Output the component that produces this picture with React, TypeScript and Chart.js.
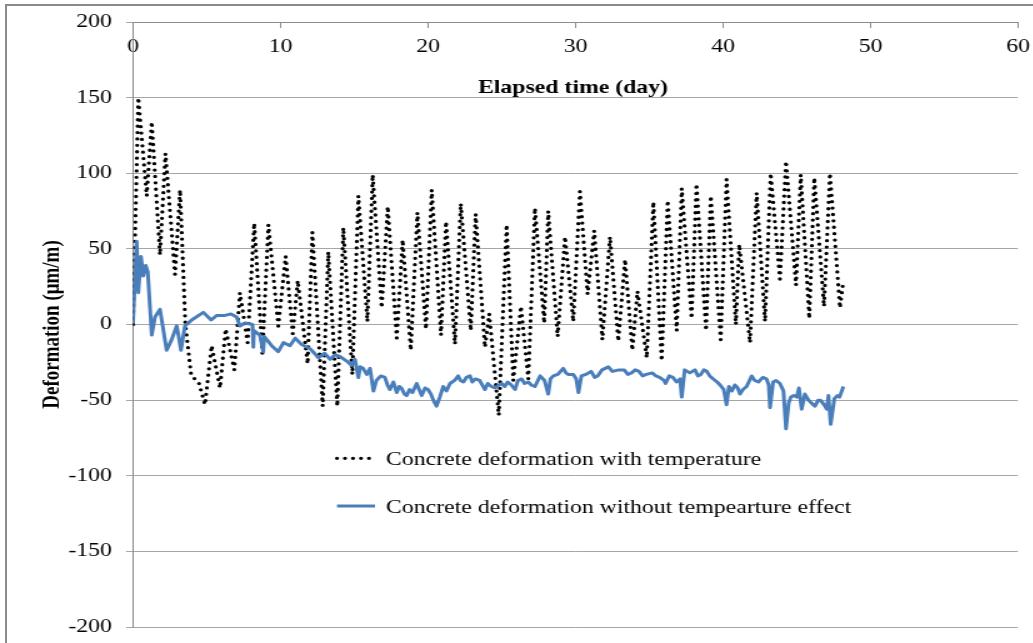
import React, { useEffect, useRef } from 'react';
import { Chart, registerables } from 'chart.js';

Chart.register(...registerables);

const xTicks = [0, 10, 20, 30, 40, 50, 60];
const yTicks = [-200, -150, -100, -50, 0, 50, 100, 150, 200];
const seriesNames = [
  'Concrete deformation with temperature',
  'Concrete deformation without tempearture effect',
];
const xTitle = 'Elapsed time (day)';
const yTitle = 'Deformation (μm/m)';

const tempDays = [
  0, 0.36, 0.93, 1.27, 1.83, 2.2, 2.85, 3.19, 3.55, 3.95, 4.45,
  4.88, 5.33, 5.9, 6.28, 6.87, 7.25, 7.77, 8.22, 8.77, 9.18,
  9.85, 10.35, 10.83, 11.17, 11.84, 12.16, 12.86, 13.24, 13.85, 14.26,
  14.87, 15.28, 15.89, 16.25, 16.86, 17.27, 17.88, 18.28, 18.83, 19.28,
  19.86, 20.25, 20.88, 21.22, 21.83, 22.22, 22.9, 23.23, 23.86, 24.15,
  24.8, 25.33, 25.78, 26.3, 26.8, 27.25, 27.88, 28.15, 28.79, 29.29,
  29.85, 30.3, 30.82, 31.27, 31.82, 32.34, 32.9, 33.36, 33.85, 34.2,
  34.83, 35.28, 35.84, 36.25, 36.86, 37.2, 37.87, 38.2, 38.85, 39.17,
  39.84, 40.24, 40.87, 41.1, 41.83, 42.28, 42.85, 43.23, 43.86, 44.27,
  44.95, 45.27, 45.85, 46.19, 46.85, 47.25, 47.93, 48.16,
];
const tempValues = [
  0, 150, 85, 134, 46, 113, 33, 89, 0, -34, -38,
  -53, -14, -42, -3, -30, 21, -12, 67, -19, 66,
  -1, 45, -6, 29, -26, 61, -54, 48, -54, 64,
  -33, 85, 2, 99, 11, 78, -9, 56, -17, 74,
  -3, 89, -7, 68, -13, 80, -4, 73, -15, 7,
  -60, 66, -37, 12, -36, 77, 1, 75, -8, 58,
  2, 88, 20, 62, -10, 58, -11, 43, -17, 22,
  -22, 81, -24, 82, -4, 90, 4, 93, -4, 85,
  -10, 96, 0, 53, -12, 87, 2, 100, 30, 108,
  26, 99, 4, 97, 12, 100, 11, 29,
];

const noTempDays = [
  0, 0.25, 0.36, 0.54, 0.7, 0.86, 1.0, 1.27, 1.49, 1.83,
  2.28, 2.62, 2.96, 3.1, 3.25, 3.52, 3.98, 4.77, 5.3, 5.67,
  6.24, 6.64, 7.02, 7.25, 7.59, 8.1, 8.16, 8.2, 8.6, 8.83,
  8.9, 9.4, 9.85, 10.2, 10.64, 11.0, 11.4, 12.0, 12.3, 12.56,
  13.0, 13.36, 13.7, 14.0, 14.46, 14.83, 15.05, 15.28, 15.4, 15.6,
  15.85, 16.07, 16.3, 16.5, 16.8, 17.08, 17.25, 17.42, 17.65, 17.88,
  18.05, 18.2, 18.4, 18.55, 18.75, 18.95, 19.23, 19.4, 19.57, 19.8,
  20.0, 20.2, 20.36, 20.58, 20.8, 21.03, 21.25, 21.49, 21.8, 22.05,
  22.2, 22.4, 22.6, 22.85, 23.0, 23.2, 23.5, 23.86, 24.05, 24.3,
  24.54, 24.8, 25.0, 25.2, 25.4, 25.65, 25.9, 26.1, 26.35, 26.55,
  26.8, 27.0, 27.25, 27.45, 27.6, 27.9, 28.15, 28.3, 28.5, 28.8,
  29.17, 29.35, 29.5, 29.85, 30.05, 30.2, 30.4, 30.7, 31.06, 31.3,
  31.5, 31.8, 32.23, 32.5, 32.95, 33.3, 33.55, 33.8, 34.05, 34.3,
  34.55, 34.8, 35.2, 35.45, 35.7, 36.0, 36.1, 36.35, 36.6, 36.85,
  37.09, 37.2, 37.4, 37.75, 38.1, 38.3, 38.5, 38.7, 38.9, 39.1,
  39.34, 39.6, 39.8, 40.05, 40.24, 40.4, 40.6, 40.8, 41.0, 41.15,
  41.35, 41.6, 41.94, 42.15, 42.4, 42.7, 42.95, 43.1, 43.19, 43.4,
  43.6, 43.86, 44.1, 44.27, 44.45, 44.6, 44.8, 45.0, 45.15, 45.33,
  45.55, 45.8, 46.0, 46.24, 46.45, 46.6, 46.85, 47.03, 47.15, 47.3,
  47.55, 47.75, 47.9, 48.05, 48.16,
];
const noTempValues = [
  1, 55, 21, 45, 32, 39, 35, -7, 5, 10,
  -17, -10, -1, -8, -17, -1, 3, 8, 3, 6,
  6, 7, 5, -1, 1, 0, -15, -4, -7, -18,
  -8, -14, -18, -12, -14, -9, -13, -16, -19, -22,
  -19, -23, -20, -21, -24, -27, -23, -35, -28, -29,
  -33, -29, -44, -37, -34, -35, -40, -43, -38, -45,
  -41, -42, -46, -47, -43, -45, -39, -43, -47, -42,
  -43, -46, -50, -54, -48, -41, -44, -39, -37, -34,
  -37, -38, -35, -34, -38, -36, -37, -43, -39, -41,
  -42, -40, -39, -41, -38, -40, -43, -37, -36, -39,
  -38, -40, -41, -37, -34, -37, -46, -36, -34, -33,
  -29, -32, -33, -33, -36, -45, -34, -33, -31, -35,
  -34, -30, -28, -31, -30, -30, -33, -32, -30, -31,
  -34, -33, -32, -34, -35, -37, -39, -34, -35, -38,
  -36, -48, -30, -32, -30, -34, -33, -30, -31, -34,
  -36, -38, -40, -43, -53, -41, -44, -40, -42, -46,
  -43, -41, -34, -37, -38, -35, -36, -40, -55, -38,
  -37, -39, -44, -69, -52, -48, -47, -48, -42, -56,
  -46, -50, -52, -54, -50, -50, -53, -56, -47, -66,
  -49, -47, -48, -44, -41,
];

const FONT = '"Liberation Serif", "Times New Roman", serif';

const overlayPlugin = {
  id: 'overlay',
  afterDraw(chart: any) {
    const { ctx, chartArea } = chart;
    const ys = chart.scales.y;
    const ds = chart.data.datasets;
    ctx.save();
    ctx.fillStyle = '#000';
    ctx.font = `bold 19px ${FONT}`;
    ctx.textAlign = 'center';
    ctx.textBaseline = 'alphabetic';
    ctx.fillText(xTitle, (chartArea.left + chartArea.right) / 2 - 2, ys.getPixelForValue(200) + 71);

    const rows = [458.3, 506];
    const sx0 = 269.6;
    const sx1 = 300;
    const tx = 308.8;
    rows.forEach((ry, i) => {
      const d = ds[i];
      ctx.save();
      ctx.strokeStyle = d.borderColor;
      ctx.lineWidth = d.borderWidth;
      ctx.lineCap = d.borderCapStyle || 'butt';
      ctx.setLineDash(d.borderDash || []);
      ctx.beginPath();
      ctx.moveTo(sx0, ry);
      ctx.lineTo(sx1, ry);
      ctx.stroke();
      ctx.restore();
      ctx.font = `19px ${FONT}`;
      ctx.textAlign = 'left';
      ctx.textBaseline = 'alphabetic';
      ctx.fillStyle = '#000';
      ctx.fillText(seriesNames[i], tx, ry + 7);
    });
    ctx.restore();
  },
};

export default function App() {
  const ref = useRef<HTMLCanvasElement>(null);

  useEffect(() => {
    const canvas = ref.current;
    if (!canvas) return;
    const chart = new Chart(canvas, {
      type: 'line',
      data: {
        datasets: [
          {
            label: seriesNames[0],
            data: tempDays.map((d, i) => ({ x: d, y: tempValues[i] })),
            borderColor: '#000000',
            borderWidth: 3.3,
            borderDash: [0, 6.4],
            borderCapStyle: 'round',
            borderJoinStyle: 'round',
            pointRadius: 0,
            tension: 0,
            fill: false,
            order: 2,
          },
          {
            label: seriesNames[1],
            data: noTempDays.map((d, i) => ({ x: d, y: noTempValues[i] })),
            borderColor: '#4a7ebb',
            borderWidth: 3,
            borderJoinStyle: 'round',
            pointRadius: 0,
            tension: 0,
            fill: false,
            order: 1,
          },
        ],
      },
      options: {
        responsive: false,
        animation: false,
        devicePixelRatio: 1,
        events: [],
        layout: { padding: { left: 30.2, top: 22, right: 11.6, bottom: 16 } },
        plugins: { legend: { display: false }, tooltip: { enabled: false } },
        scales: {
          x: {
            type: 'linear',
            position: { y: 200 },
            min: 0,
            max: 60,
            afterBuildTicks: (s: any) => {
              s.ticks = xTicks.map((v) => ({ value: v }));
            },
            afterFit: (s: any) => {
              s.height = 0;
              s.paddingLeft = 0;
              s.paddingRight = 0;
            },
            grid: { drawOnChartArea: false, drawTicks: true, tickLength: 5, color: '#8c8c8c' },
            border: { display: true, color: '#8c8c8c' },
            ticks: {
              autoSkip: false,
              maxRotation: 0,
              padding: 9,
              color: '#000',
              font: { family: FONT, size: 19 },
            },
          },
          y: {
            type: 'linear',
            min: -200,
            max: 200,
            afterBuildTicks: (s: any) => {
              s.ticks = yTicks.map((v) => ({ value: v }));
            },
            afterFit: (s: any) => {
              s.width = 76.2;
              s.paddingTop = 0;
              s.paddingBottom = 0;
            },
            grid: { color: '#a6a6a6', tickLength: 5.6 },
            border: { display: true, color: '#8c8c8c' },
            ticks: {
              padding: 11.2,
              color: '#000',
              font: { family: FONT, size: 19 },
            },
            title: {
              display: true,
              text: yTitle,
              color: '#000',
              font: { family: FONT, size: 19, weight: 'bold' },
              padding: { top: 0, bottom: 0 },
            },
          },
        },
      },
      plugins: [overlayPlugin],
    } as any);
    return () => chart.destroy();
  }, []);

  return (
    <div
      style={{
        position: 'fixed',
        left: 0,
        top: 0,
        width: 1033,
        height: 643,
        overflow: 'hidden',
        background: '#fff',
      }}
    >
      <div
        style={{
          position: 'absolute',
          left: 5,
          top: 4,
          width: 1100,
          height: 700,
          borderLeft: '2px solid #8a8a8a',
          borderTop: '2px solid #8a8a8a',
        }}
      />
      <div style={{ position: 'absolute', left: 0, top: 0, transform: 'scaleX(1.25)', transformOrigin: '0 0' }}>
        <canvas ref={ref} width={826} height={643} style={{ display: 'block' }} />
      </div>
    </div>
  );
}
